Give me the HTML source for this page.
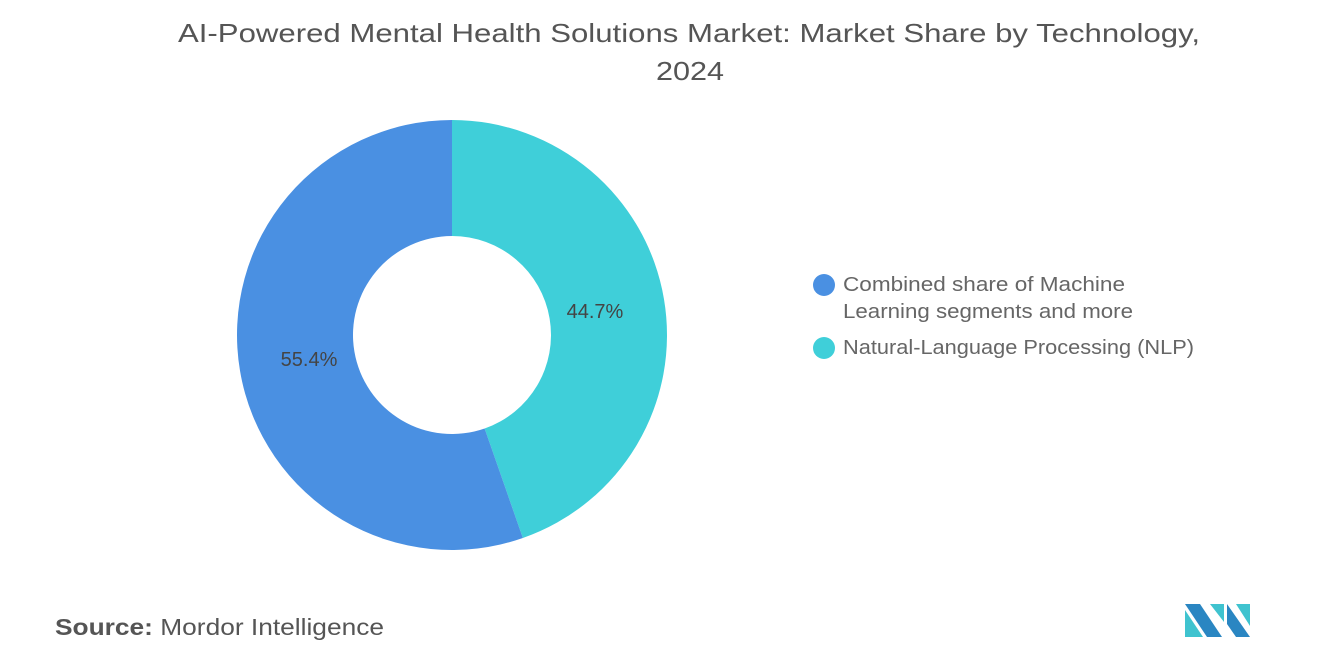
<!DOCTYPE html>
<html><head><meta charset="utf-8"><style>
body{margin:0;width:1320px;height:665px;background:#fff;font-family:"Liberation Sans",sans-serif;overflow:hidden}
</style></head><body>
<svg width="1320" height="665">
<text x="178" y="42" font-size="26" fill="#555" textLength="1022" lengthAdjust="spacingAndGlyphs">AI-Powered Mental Health Solutions Market: Market Share by Technology,</text>
<text x="656" y="80" font-size="26" fill="#555" textLength="68" lengthAdjust="spacingAndGlyphs">2024</text>
<g id="donut"></g>
<g>
<circle cx="824" cy="285" r="11" fill="#4a90e2"/>
<text x="843" y="291" font-size="20" fill="#666" textLength="282" lengthAdjust="spacingAndGlyphs">Combined share of Machine</text>
<text x="843" y="318" font-size="20" fill="#666" textLength="290" lengthAdjust="spacingAndGlyphs">Learning segments and more</text>
<circle cx="824" cy="348" r="11" fill="#3fcfd9"/>
<text x="843" y="354" font-size="20" fill="#666" textLength="351" lengthAdjust="spacingAndGlyphs">Natural-Language Processing (NLP)</text>
</g>
<text x="55" y="635" font-size="23" fill="#555" textLength="329" lengthAdjust="spacingAndGlyphs"><tspan font-weight="bold">Source:</tspan>  Mordor Intelligence</text>
<g>
<polygon points="1185,604 1200,604 1222,637 1207,637" fill="#2a86c2"/>
<polygon points="1185,610 1203,637 1185,637" fill="#3fc3cf"/>
<polygon points="1210,604 1224,604 1224,622" fill="#3fc3cf"/>
<polygon points="1227,604 1250,637 1236,637 1227,624" fill="#2a86c2"/>
<polygon points="1236,604 1250,604 1250,626" fill="#3fc3cf"/>
</g>
</svg>
<script>
const categories=["NLP","Machine Learning"];
const values=[44.7,55.4];
const colors=["#3fcfd9","#4a90e2"];
const labels=["44.7%","55.4%"];
const cx=452,cy=335,R=215,r=99,ns="http://www.w3.org/2000/svg";
const g=document.getElementById("donut");
const total=values.reduce((a,b)=>a+b,0);
let a0=0;
function pt(a,rad){return [cx+rad*Math.sin(a),cy-rad*Math.cos(a)];}
values.forEach((v,i)=>{
 const a1=a0+v/total*2*Math.PI;
 const [x1,y1]=pt(a0,R),[x2,y2]=pt(a1,R),[x3,y3]=pt(a1,r),[x4,y4]=pt(a0,r);
 const lg=(a1-a0)>Math.PI?1:0;
 const p=document.createElementNS(ns,"path");
 p.setAttribute("d",`M${x1},${y1}A${R},${R} 0 ${lg} 1 ${x2},${y2}L${x3},${y3}A${r},${r} 0 ${lg} 0 ${x4},${y4}Z`);
 p.setAttribute("fill",colors[i]);
 
 
 g.appendChild(p);
 const [lx,ly]=pt((a0+a1)/2,145);
 const t=document.createElementNS(ns,"text");
 t.setAttribute("x",lx);t.setAttribute("y",ly+7);
 t.setAttribute("text-anchor","middle");t.setAttribute("font-size","20");t.setAttribute("fill","#444");
 t.textContent=labels[i];
 
 
 g.appendChild(t);
 a0=a1;
});
</script>
</body></html>
